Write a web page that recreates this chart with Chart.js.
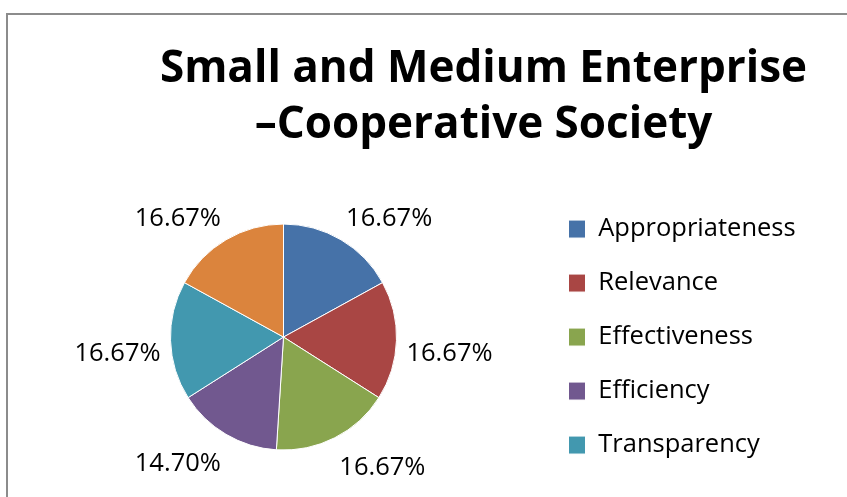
<!DOCTYPE html>
<html>
<head>
<meta charset="utf-8">
<script src="https://cdn.jsdelivr.net/npm/chart.js@4"></script>
<style>
  html, body { margin: 0; padding: 0; background: #fff; overflow: hidden; width: 847px; height: 497px; }
  #frame { position: absolute; left: 6px; top: 13px; width: 960px; height: 560px;
           border-left: 2px solid #8c8c8c; border-top: 2px solid #8c8c8c; }
  #pieChart { display: block; }
</style>
</head>
<body>
<div id="frame"><canvas id="pieChart" width="951" height="540"></canvas></div>
<script>
const titleLines = ["Small and Medium Enterprise", "\u2013Cooperative Society"];
const criteria = ["Appropriateness", "Relevance", "Effectiveness", "Efficiency", "Transparency", "Sustainability"];
const shares = [16.67, 16.67, 16.67, 14.70, 16.67, 16.67];
const sliceColors = ["#4672a8", "#a94644", "#89a54e", "#71588f", "#4298af", "#db843d"];

// percentage labels sitting just outside each slice
const outsideLabels = {
  id: "outsideLabels",
  afterDatasetsDraw(chart) {
    const ctx = chart.ctx;
    const meta = chart.getDatasetMeta(0);
    const values = chart.data.datasets[0].data;
    ctx.save();
    ctx.font = "25.5px 'Open Sans'";
    ctx.fillStyle = "#000";
    ctx.textAlign = "center";
    ctx.textBaseline = "middle";
    meta.data.forEach((arc, i) => {
      const { x, y, startAngle, endAngle, outerRadius } =
        arc.getProps(["x", "y", "startAngle", "endAngle", "outerRadius"], true);
      const mid = (startAngle + endAngle) / 2;
      const cos = Math.cos(mid);
      const sin = Math.sin(mid);
      const text = values[i].toFixed(2) + "%";
      const w = ctx.measureText(text).width;
      const h = 24;
      const d = outerRadius + 10;
      const cx = x + d * cos + Math.sign(cos) * w / 2;
      const cy = y + d * sin + (sin > 0 ? h / 2 + 10 * sin : -h / 2);
      ctx.fillText(text, cx, cy);
    });
    ctx.restore();
  }
};

// the legend box is stretched so the title centres over the whole frame
const legendWidth = {
  id: "legendWidth",
  beforeLayout(chart) {
    const legend = chart.legend;
    if (legend && !legend.$fixedWidth) {
      const fit = legend.fit.bind(legend);
      legend.fit = () => { fit(); legend.width = 400; };
      legend.$fixedWidth = true;
    }
  }
};

new Chart(document.getElementById("pieChart"), {
  type: "pie",
  data: {
    labels: criteria,
    datasets: [{
      data: shares,
      backgroundColor: sliceColors,
      borderColor: "#ffffff",
      borderWidth: 1,
      radius: 113
    }]
  },
  options: {
    responsive: false,
    animation: false,
    layout: { padding: { left: 19, right: 19, top: 0, bottom: 38 } },
    plugins: {
      title: {
        display: true,
        text: titleLines,
        color: "#000",
        font: { family: "Open Sans", size: 44, weight: "bold", lineHeight: 1.29 },
        padding: { top: 25.6, bottom: 3 }
      },
      legend: {
        position: "right",
        fullSize: false,
        labels: {
          font: { family: "Open Sans", size: 25.5 },
          color: "#000",
          boxWidth: 17,
          boxHeight: 18,
          padding: 28.5,
          // the sixth entry falls below the visible crop
          filter: (item) => item.index < 5
        }
      },
      tooltip: { enabled: false }
    }
  },
  plugins: [outsideLabels, legendWidth]
});
</script>
</body>
</html>
